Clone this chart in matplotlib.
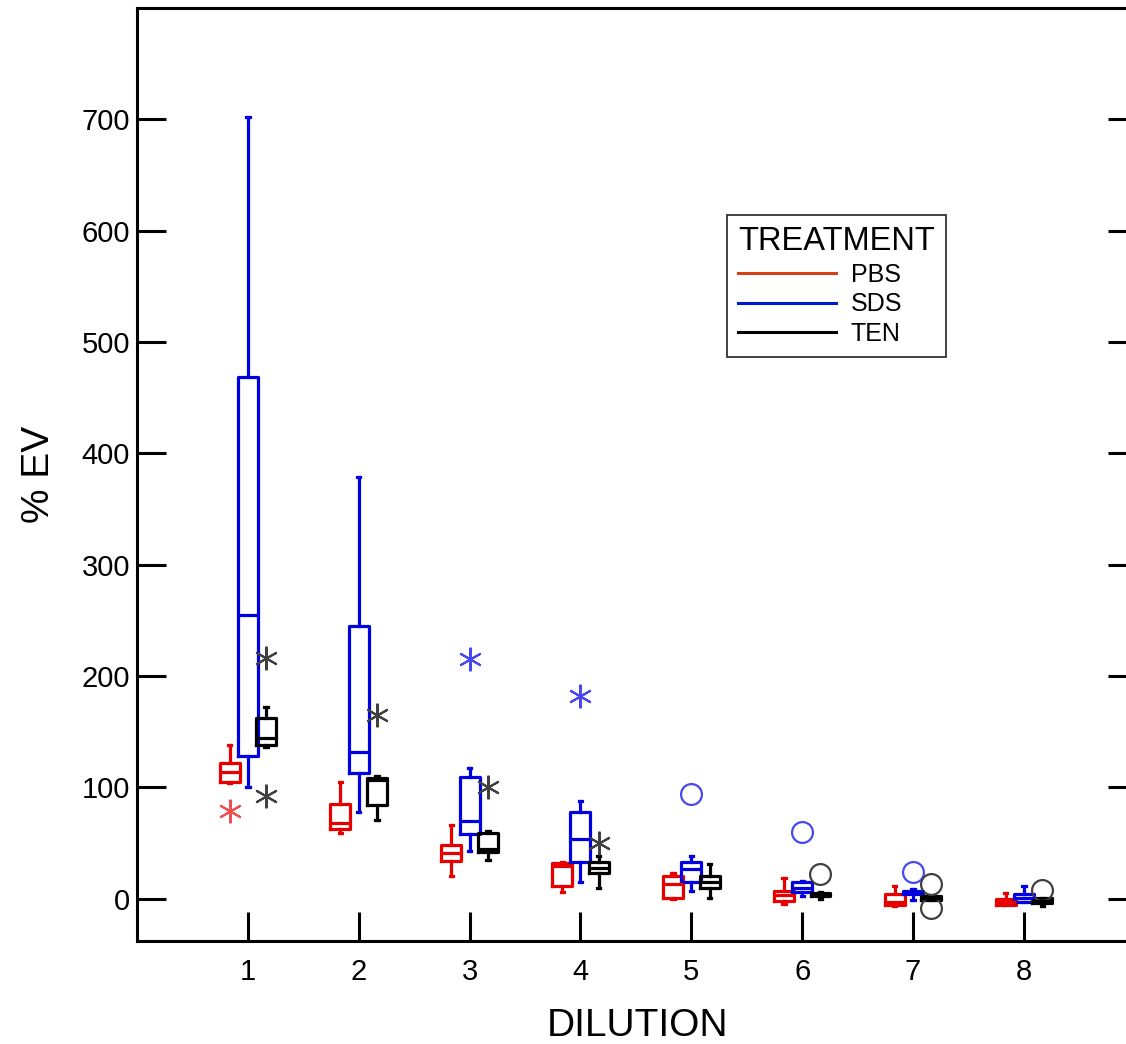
import matplotlib
matplotlib.use("Agg")
import matplotlib.pyplot as plt
from matplotlib.lines import Line2D

plt.rcParams['font.family'] = ['Liberation Sans', 'DejaVu Sans']

dilution = [1, 2, 3, 4, 5, 6, 7, 8]
treatments = ["PBS", "SDS", "TEN"]

# quartiles / medians / whisker ends per dilution
pbs_q1 = [105, 63, 34, 11, 1, -2, -6, -6]
pbs_med = [114, 68, 41, 29, 13, 3, -3, -3]
pbs_q3 = [122, 85, 48, 32, 20, 7, 4, 0]
pbs_lo = [104, 59, 20, 6, 0, -5, -7, -6]
pbs_hi = [138, 105, 66, 33, 23, 19, 11, 5]

sds_q1 = [128, 113, 58, 33, 15, 6, 4, -3]
sds_med = [255, 132, 70, 54, 27, 10, 6, 1]
sds_q3 = [469, 245, 109, 78, 33, 15, 7, 4]
sds_lo = [100, 78, 43, 15, 7, 2, -1, -3]
sds_hi = [702, 379, 117, 88, 38, 16, 9, 11]

ten_q1 = [138, 84, 42, 23, 10, 2, -1, -4]
ten_med = [144, 107, 45, 28, 15, 4, 1, -2]
ten_q3 = [162, 108, 59, 33, 20, 5, 2, 1]
ten_lo = [136, 71, 35, 10, 1, 0, -1, -7]
ten_hi = [172, 110, 61, 38, 31, 6, 2, 1]

# outliers: far (star) and near (circle)
pbs_star_x = [1]
pbs_star_y = [79]
sds_star_x = [3, 4]
sds_star_y = [215, 182]
sds_circ_x = [5, 6, 7]
sds_circ_y = [94, 60, 24]
ten_star_x = [1, 1, 2, 3, 4]
ten_star_y = [216, 92, 165, 100, 50]
ten_circ_x = [6, 7, 7, 8]
ten_circ_y = [22, 13, -8, 8]

colors = {"PBS": "#e80000", "SDS": "#0000e0", "TEN": "#000000"}
legend_colors = {"PBS": "#d8401c", "SDS": "#0018d8", "TEN": "#000000"}
out_colors = {"PBS": "#f05050", "SDS": "#4848f0", "TEN": "#404040"}
offsets = {"PBS": -0.165, "SDS": 0.0, "TEN": 0.165}

data = {
    "PBS": (pbs_q1, pbs_med, pbs_q3, pbs_lo, pbs_hi),
    "SDS": (sds_q1, sds_med, sds_q3, sds_lo, sds_hi),
    "TEN": (ten_q1, ten_med, ten_q3, ten_lo, ten_hi),
}
stars = {"PBS": (pbs_star_x, pbs_star_y), "SDS": (sds_star_x, sds_star_y),
         "TEN": (ten_star_x, ten_star_y)}
circs = {"SDS": (sds_circ_x, sds_circ_y), "TEN": (ten_circ_x, ten_circ_y)}

W, H = 1126, 1044
fig = plt.figure(figsize=(W / 100, H / 100), dpi=100)
ax = fig.add_axes([137 / W, (H - 941) / H, (1137 - 137) / W, (941 - 8) / H])

lw = 2.3
for t in treatments:
    q1, med, q3, lo, hi = data[t]
    stats = []
    for i in range(len(dilution)):
        stats.append(dict(q1=q1[i], med=med[i], q3=q3[i], whislo=lo[i],
                          whishi=hi[i], fliers=[]))
    pos = [d + offsets[t] for d in dilution]
    c = colors[t]
    ax.bxp(stats, positions=pos, widths=0.18, showfliers=False,
           capwidths=0.03, manage_ticks=False,
           boxprops=dict(color=c, linewidth=lw),
           medianprops=dict(color=c, linewidth=lw),
           whiskerprops=dict(color=c, linewidth=lw),
           capprops=dict(color=c, linewidth=lw))
    sx, sy = stars[t]
    ax.plot([x + offsets[t] for x in sx], sy, linestyle='none',
            marker=(6, 2, 0), markersize=17, markeredgewidth=1.5,
            color=out_colors[t])
    if t in circs:
        cx, cy = circs[t]
        ax.plot([x + offsets[t] for x in cx], cy, linestyle='none',
                marker='o', markersize=15, markerfacecolor='none',
                markeredgewidth=1.6, markeredgecolor=out_colors[t])

ax.set_xlim(0, 9.02)
ax.set_ylim(-38, 800)
ax.set_xticks(dilution)
ax.set_yticks(range(0, 701, 100))
for s in ax.spines.values():
    s.set_linewidth(2.2)
ax.tick_params(axis='both', direction='in', length=21, width=2.2,
               labelsize=21)
ax.tick_params(axis='y', right=True, pad=5)
ax.tick_params(axis='x', pad=12)
ax.set_xlabel("DILUTION", fontsize=28, labelpad=16)
ax.set_ylabel("% EV", fontsize=28, labelpad=18)

handles = [Line2D([0], [0], color=legend_colors[t], linewidth=2.2) for t in treatments]
leg = ax.legend(handles, treatments, title="TREATMENT", loc='upper left',
                bbox_to_anchor=(0.59, 0.778), borderaxespad=0,
                fontsize=18, title_fontsize=23.5,
                frameon=True, fancybox=False, edgecolor='black',
                handlelength=3.9, handletextpad=0.6, labelspacing=0.22,
                borderpad=0.45, alignment='left')
leg.get_frame().set_linewidth(1.3)

fig.savefig("out.png", dpi=100)
